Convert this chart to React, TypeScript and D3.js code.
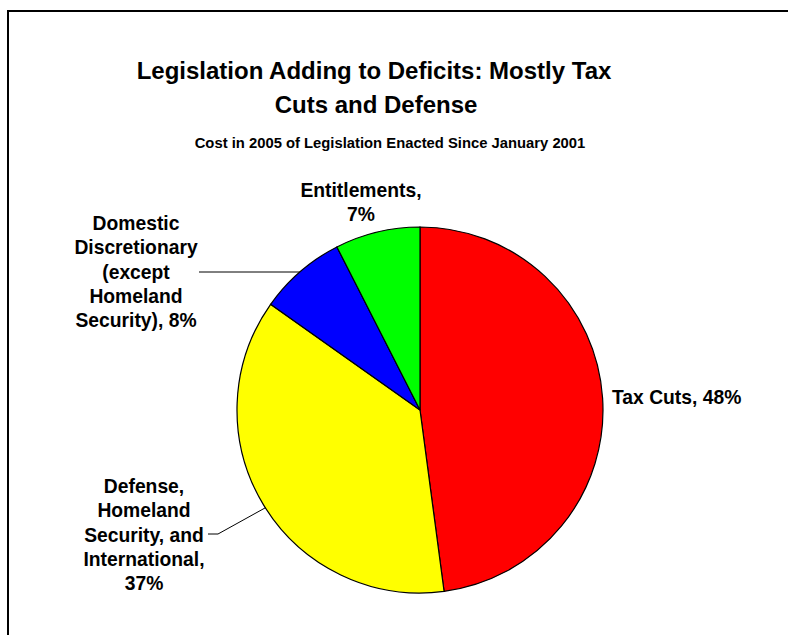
import React from "react";
import * as d3 from "d3";

const categories = [
  "Tax Cuts",
  "Defense, Homeland Security, and International",
  "Domestic Discretionary (except Homeland Security)",
  "Entitlements",
];
const shares = [47.9, 36.9, 7.7, 7.5];
const shareLabels = ["48%", "37%", "8%", "7%"];
const colors = ["#FF0000", "#FFFF00", "#0000FF", "#00FF00"];
const labelLines = [
  ["Tax Cuts, 48%"],
  ["Defense,", "Homeland", "Security, and", "International,", "37%"],
  ["Domestic", "Discretionary", "(except", "Homeland", "Security), 8%"],
  ["Entitlements,", "7%"],
];

const W = 788;
const H = 635;
const cx = 420;
const cy = 410;
const R = 183;
const FONT = "'Liberation Sans', Arial, Helvetica, sans-serif";

export default function App() {
  const pie = d3
    .pie<number>()
    .sort(null)
    .value((d) => d)
    .startAngle(0)
    .endAngle(2 * Math.PI);
  const arcs = pie(shares);
  const arc = d3.arc<d3.PieArcDatum<number>>().innerRadius(0).outerRadius(R);

  const edge = (deg: number): [number, number] => {
    const a = (deg * Math.PI) / 180;
    return [cx + R * Math.sin(a), cy - R * Math.cos(a)];
  };

  // label layout: [anchor x, first baseline y, anchor]
  const layout: [number, number, string][] = [
    [612, 404, "start"],
    [144, 493, "middle"],
    [136, 230, "middle"],
    [361, 197, "middle"],
  ];
  const lineH = 24.3;

  const domEdge = edge(319);
  const defEdge = edge(237.7);

  return (
    <div style={{ position: "fixed", left: 0, top: 0 }}>
      <svg width={W} height={H} style={{ display: "block", background: "#fff" }}>
        <rect x={8} y={11} width={900} height={800} fill="#fff" stroke="#000" strokeWidth={2} />
        <g fontFamily={FONT} fontWeight="bold" fill="#000" textAnchor="middle">
          <text x={374} y={79} fontSize={24}>
            Legislation Adding to Deficits: Mostly Tax
          </text>
          <text x={376} y={113} fontSize={24}>
            Cuts and Defense
          </text>
          <text x={390} y={148} fontSize={14.8}>
            Cost in 2005 of Legislation Enacted Since January 2001
          </text>
        </g>
        <g transform={`translate(${cx},${cy})`}>
          {arcs.map((a, i) => (
            <path key={categories[i]} d={arc(a) || ""} fill={colors[i]} stroke="#000" strokeWidth={1.2} />
          ))}
        </g>
        <polyline
          points={`199,272 ${domEdge[0]},272`}
          fill="none"
          stroke="#000"
          strokeWidth={1}
        />
        <polyline
          points={`208,534 218,534 ${defEdge[0]},${defEdge[1]}`}
          fill="none"
          stroke="#000"
          strokeWidth={1}
        />
        <g fontFamily={FONT} fontWeight="bold" fontSize={19.3} fill="#000">
          {labelLines.map((lines, i) => (
            <text
              key={categories[i]}
              x={layout[i][0]}
              y={layout[i][1]}
              textAnchor={layout[i][2] as any}
              data-share={shareLabels[i]}
            >
              {lines.map((l, j) => (
                <tspan key={j} x={layout[i][0]} y={layout[i][1] + j * lineH}>
                  {l}
                </tspan>
              ))}
            </text>
          ))}
        </g>
      </svg>
    </div>
  );
}
